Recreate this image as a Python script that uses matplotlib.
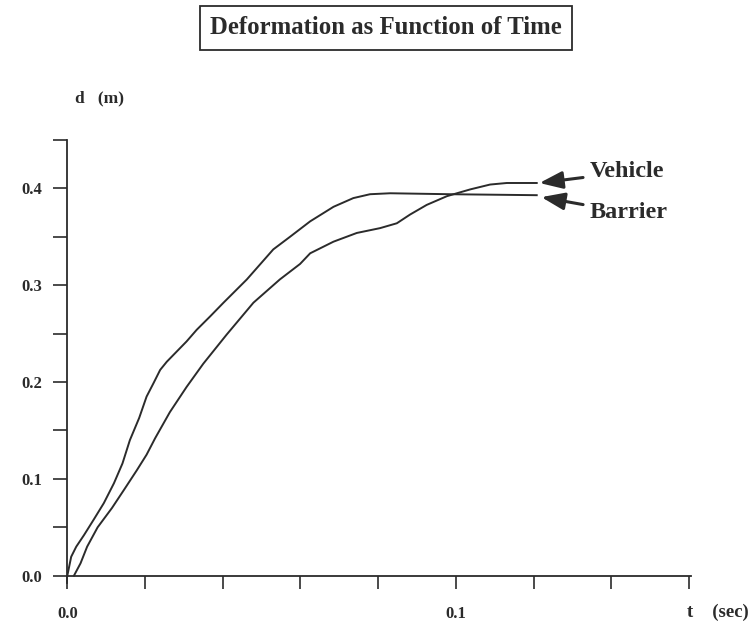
import matplotlib
matplotlib.use("Agg")
import matplotlib.pyplot as plt

# data: time (sec) and deformation (m)
t_barrier = [0.0, 0.001, 0.0023, 0.0043, 0.0068, 0.0094, 0.012, 0.0142, 0.0161,
             0.0185, 0.0204, 0.0222, 0.0239, 0.0256, 0.0273, 0.0307, 0.0333, 0.0368,
             0.0402, 0.0462, 0.053, 0.0573, 0.0625, 0.0685, 0.0736, 0.0779, 0.0831,
             0.0985, 0.1208]
d_barrier = [0.0, 0.0196, 0.030, 0.042, 0.058, 0.075, 0.0955, 0.116, 0.140,
             0.163, 0.185, 0.199, 0.2126, 0.221, 0.228, 0.242, 0.254, 0.268,
             0.282, 0.306, 0.337, 0.350, 0.366, 0.381, 0.390, 0.394, 0.395,
             0.394, 0.393]

t_vehicle = [0.0017, 0.0034, 0.0051, 0.0078, 0.0115, 0.0148, 0.0179, 0.0204, 0.0226,
             0.0264, 0.0307, 0.035, 0.041, 0.0479, 0.0547, 0.0599, 0.0625, 0.0685,
             0.0745, 0.0805, 0.0848, 0.0882, 0.0925, 0.0977, 0.1037, 0.1088, 0.1131,
             0.1208]
d_vehicle = [0.0, 0.0128, 0.030, 0.050, 0.070, 0.090, 0.109, 0.125, 0.142,
             0.169, 0.195, 0.219, 0.249, 0.282, 0.306, 0.322, 0.333, 0.345,
             0.354, 0.359, 0.364, 0.373, 0.383, 0.392, 0.399, 0.404, 0.4056,
             0.4056]

x_ticks = [0.0, 0.02, 0.04, 0.06, 0.08, 0.1, 0.12, 0.14, 0.16]
x_labels = ["0.0", "", "", "", "", "0.1", "", "", ""]
y_ticks = [0.0, 0.05, 0.1, 0.15, 0.2, 0.25, 0.3, 0.35, 0.4, 0.45]
y_labels = ["0.0", "", "0.1", "", "0.2", "", "0.3", "", "0.4", ""]

plt.rcParams['font.family'] = ['Liberation Serif', 'DejaVu Serif']
plt.rcParams['font.weight'] = 'bold'
ink = '#2b2b2b'

fig = plt.figure(figsize=(7.56, 6.28), dpi=100)
ax = fig.add_axes([67.3 / 756, (628 - 583) / 628, (691 - 67.3) / 756, (583 - 140) / 628])

ax.plot(t_barrier, d_barrier, color=ink, lw=1.4, solid_joinstyle='round')
ax.plot(t_vehicle, d_vehicle, color=ink, lw=1.4, solid_joinstyle='round')

ax.set_xlim(0, 0.1605)
ax.set_ylim(-0.0075, 0.45)
for s in ['top', 'right']:
    ax.spines[s].set_visible(False)
ax.spines['bottom'].set_position(('data', 0))
ax.spines['left'].set_bounds(-0.0075, 0.45)
for s in ['left', 'bottom']:
    ax.spines[s].set_color(ink)
    ax.spines[s].set_linewidth(1.3)
ax.set_xticks(x_ticks)
ax.set_xticklabels(x_labels)
ax.set_yticks(y_ticks)
ax.set_yticklabels(y_labels)
ax.tick_params(axis='x', direction='out', length=9, width=1.2, color=ink,
               pad=13, labelsize=12, labelcolor=ink)
ax.tick_params(axis='y', direction='out', length=10, width=1.2, color=ink,
               pad=8, labelsize=12, labelcolor=ink)
for lab in ax.get_xticklabels() + ax.get_yticklabels():
    lab.set_fontweight('bold')

# axis names
fig.text(75 / 756, 1 - 98 / 628, "d   (m)", fontsize=12.5, fontweight='bold', color=ink,
         ha='left', va='center')
fig.text(687 / 756, 1 - 612 / 628, "t    (sec)", fontsize=13.5, fontweight='bold', color=ink,
         ha='left', va='center')

# boxed title
fig.text(386 / 756, 1 - 28 / 628, "Deformation as Function of Time", fontsize=17.8,
         fontweight='bold', color=ink, ha='center', va='center',
         bbox=dict(boxstyle='square,pad=0.42', fc='white', ec=ink, lw=1.3))

# arrow labels
ax.annotate("Vehicle", xy=(0.1215, 0.4056), xytext=(0.1345, 0.417),
            fontsize=17.5, fontweight='bold', color=ink, ha='left', va='center',
            arrowprops=dict(arrowstyle='-|>,head_length=0.8,head_width=0.3',
                            color=ink, lw=2.2, shrinkA=3, shrinkB=0))
ax.annotate("Barrier", xy=(0.122, 0.391), xytext=(0.1345, 0.3748),
            fontsize=17.5, fontweight='bold', color=ink, ha='left', va='center',
            arrowprops=dict(arrowstyle='-|>,head_length=0.8,head_width=0.3',
                            color=ink, lw=2.2, shrinkA=3, shrinkB=0))

fig.savefig("out.png", dpi=100, facecolor='white')
